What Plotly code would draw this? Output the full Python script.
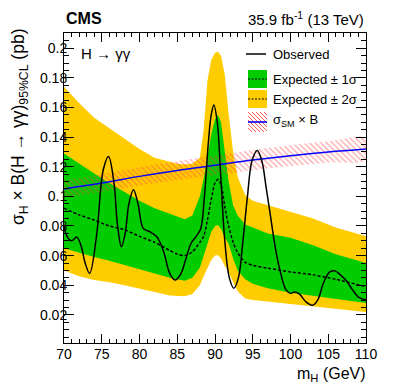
import plotly.graph_objects as go

# mass grid for the expected bands (GeV)
m_band = [70, 72, 74, 76, 78, 80, 82, 84, 85, 86, 87, 88, 88.5, 89, 89.5, 90, 90.4,
          90.8, 91.3, 91.8, 92.4, 93, 94, 95, 97, 100, 103, 106, 110]
exp_2s_up = [0.174, 0.163, 0.153, 0.146, 0.139, 0.132, 0.126, 0.123, 0.122, 0.1215, 0.122,
             0.126, 0.145, 0.178, 0.192, 0.197, 0.1977, 0.195, 0.182, 0.156, 0.130, 0.113,
             0.101, 0.097, 0.094, 0.090, 0.085, 0.079, 0.073]
exp_1s_up = [0.129, 0.122, 0.1155, 0.109, 0.103, 0.097, 0.092, 0.088, 0.086, 0.0845, 0.087,
             0.100, 0.112, 0.127, 0.142, 0.152, 0.155, 0.150, 0.131, 0.110, 0.094, 0.087,
             0.081, 0.079, 0.075, 0.072, 0.067, 0.061, 0.055]
exp_median = [0.092, 0.0875, 0.084, 0.080, 0.0775, 0.073, 0.069, 0.0635, 0.061, 0.060, 0.0625,
              0.069, 0.073, 0.084, 0.098, 0.109, 0.1115, 0.108, 0.093, 0.080, 0.069, 0.062,
              0.0555, 0.0535, 0.0515, 0.049, 0.047, 0.044, 0.039]
exp_1s_dn = [0.065, 0.062, 0.059, 0.0565, 0.054, 0.051, 0.048, 0.045, 0.044, 0.043, 0.045,
             0.052, 0.060, 0.068, 0.076, 0.080, 0.0806, 0.078, 0.072, 0.068, 0.058, 0.050,
             0.044, 0.041, 0.038, 0.035, 0.033, 0.031, 0.028]
exp_2s_dn = [0.050, 0.046, 0.0435, 0.042, 0.040, 0.038, 0.0355, 0.033, 0.0325, 0.0325, 0.034,
             0.040, 0.046, 0.052, 0.057, 0.060, 0.0603, 0.058, 0.053, 0.049, 0.042, 0.036,
             0.031, 0.030, 0.029, 0.0275, 0.026, 0.024, 0.022]

# observed limit
m_obs = [70.0, 70.4, 71.0, 71.7, 72.3, 72.8, 73.4, 74.3, 75.2, 75.9, 76.6, 77.1, 77.6, 78.1,
         78.6, 79.2, 79.8, 80.5, 81.4, 82.3, 83.2, 84.0, 84.7, 85.4, 86.1, 86.8, 87.5, 88.1,
         88.6, 89.1, 89.5, 89.85, 90.3, 90.8, 91.3, 91.9, 92.5, 93.1, 93.7, 94.3, 94.9, 95.6,
         96.2, 96.8, 97.4, 98.0, 98.7, 99.4, 100.0, 100.6, 101.2, 102.0, 102.9, 103.6, 104.4,
         105.2, 105.9, 106.6, 107.4, 108.2, 109.0, 110.0]
obs = [0.080, 0.073, 0.070, 0.0725, 0.066, 0.055, 0.048, 0.073, 0.118, 0.127, 0.110, 0.080,
       0.066, 0.075, 0.095, 0.1045, 0.095, 0.0784, 0.076, 0.0727, 0.0626, 0.048, 0.0435, 0.047,
       0.057, 0.068, 0.073, 0.078, 0.100, 0.135, 0.155, 0.1617, 0.150, 0.110, 0.070, 0.045,
       0.038, 0.045, 0.070, 0.100, 0.124, 0.131, 0.124, 0.105, 0.085, 0.065, 0.048, 0.037,
       0.0345, 0.0355, 0.034, 0.029, 0.0265, 0.030, 0.042, 0.049, 0.0497, 0.047, 0.043, 0.037,
       0.032, 0.030]

# SM cross section x BR
m_sm = [70, 75, 80, 85, 90, 95, 100, 105, 110]
sm = [0.105, 0.109, 0.1135, 0.1175, 0.121, 0.1245, 0.1275, 0.130, 0.132]
sm_rel_unc = 0.055

y_ticks = [0.02, 0.04, 0.06, 0.08, 0.1, 0.12, 0.14, 0.16, 0.18, 0.2]
y_ticktext = ["0.02", "0.04", "0.06", "0.08", "0.1", "0.12", "0.14", "0.16", "0.18", "0.2"]
x_ticks = [70, 75, 80, 85, 90, 95, 100, 105, 110]

YELLOW = "#FFCC00"
GREEN = "#00CC00"
HATCH = "rgba(255,70,70,0.9)"
FONT = "Liberation Sans, Arial, sans-serif"


def band(xs, lo, hi, color):
    return go.Scatter(x=list(xs) + list(xs)[::-1], y=list(hi) + list(lo)[::-1],
                      fill="toself", fillcolor=color, line=dict(width=0),
                      mode="lines", hoverinfo="skip", showlegend=False)


fig = go.Figure()
fig.add_trace(band(m_band, exp_2s_dn, exp_2s_up, YELLOW))
fig.add_trace(band(m_band, exp_1s_dn, exp_1s_up, GREEN))
fig.add_trace(go.Scatter(x=m_band, y=exp_median, mode="lines", line_shape="spline",
                         line=dict(color="black", width=1.5, dash="3px,2px", smoothing=0.7),
                         showlegend=False))

sm_lo = [v * (1 - sm_rel_unc) for v in sm]
sm_hi = [v * (1 + sm_rel_unc) for v in sm]
fig.add_trace(go.Scatter(x=m_sm + m_sm[::-1], y=sm_hi + sm_lo[::-1], fill="toself",
                         fillcolor="rgba(0,0,0,0)", line=dict(width=0), mode="lines",
                         line_shape="spline",
                         fillpattern=dict(shape="\\", fgcolor=HATCH, bgcolor="rgba(0,0,0,0)",
                                          size=4, solidity=0.35),
                         showlegend=False, hoverinfo="skip"))
fig.add_trace(go.Scatter(x=m_sm, y=sm, mode="lines", line_shape="spline",
                         line=dict(color="#0000FF", width=1.5), showlegend=False))
fig.add_trace(go.Scatter(x=m_obs, y=obs, mode="lines", line_shape="spline",
                         line=dict(color="black", width=1.5, smoothing=1.0), showlegend=False))

# pixel helpers for the hand made legend (plot area 64..366 x 33..343)
L, R, T, B = 64, 366, 33, 343


def px(x):
    return (x - L) / (R - L)


def py(y):
    return (B - y) / (B - T)


shapes = []
# Observed
shapes.append(dict(type="line", xref="paper", yref="paper", x0=px(246), x1=px(266),
                   y0=py(54), y1=py(54), line=dict(color="black", width=1.5)))
# +-1 sigma
shapes.append(dict(type="rect", xref="paper", yref="paper", x0=px(248), x1=px(267),
                   y0=py(88), y1=py(70), fillcolor=GREEN, line=dict(width=0)))
shapes.append(dict(type="line", xref="paper", yref="paper", x0=px(248), x1=px(267),
                   y0=py(79), y1=py(79), line=dict(color="black", width=1, dash="2px,1.5px")))
# +-2 sigma
shapes.append(dict(type="rect", xref="paper", yref="paper", x0=px(248), x1=px(267),
                   y0=py(108), y1=py(90), fillcolor=YELLOW, line=dict(width=0)))
shapes.append(dict(type="line", xref="paper", yref="paper", x0=px(248), x1=px(267),
                   y0=py(99), y1=py(99), line=dict(color="black", width=1, dash="2px,1.5px")))
# SM hatched box
bx0, bx1, by0, by1 = 248, 267, 112, 132
w, h = bx1 - bx0, by1 - by0
c = -h
while c < w:
    t0 = max(0, -c)
    t1 = min(h, w - c)
    if t1 > t0:
        shapes.append(dict(type="line", xref="paper", yref="paper",
                           x0=px(bx0 + c + t0), y0=py(by0 + t0),
                           x1=px(bx0 + c + t1), y1=py(by0 + t1),
                           line=dict(color=HATCH, width=1)))
    c += 4
shapes.append(dict(type="line", xref="paper", yref="paper", x0=px(248), x1=px(267),
                   y0=py(122), y1=py(122), line=dict(color="#0000FF", width=1.6)))

annotations = [
    dict(text="Observed", x=px(271), y=py(54)),
    dict(text="Expected ± 1σ", x=px(271), y=py(79)),
    dict(text="Expected ± 2σ", x=px(271), y=py(99)),
    dict(text="σ<sub>SM</sub> × B", x=px(271), y=py(121)),
]
for a in annotations:
    a.update(xref="paper", yref="paper", xanchor="left", yanchor="middle", showarrow=False,
             font=dict(size=13, color="black", family=FONT))

annotations += [
    dict(text="H → γγ", x=px(79), y=py(53), xanchor="left", yanchor="middle",
         font=dict(size=15, color="black", family=FONT)),
    dict(text="<b>CMS</b>", x=0, y=py(18), xanchor="left", yanchor="middle",
         font=dict(size=16, color="black", family=FONT)),
    dict(text="35.9 fb<sup>-1</sup> (13 TeV)", x=1, y=py(18), xanchor="right", yanchor="middle",
         font=dict(size=15, color="black", family=FONT)),
    dict(text="m<sub>H</sub> (GeV)", x=1.005, y=py(374), xanchor="right", yanchor="middle",
         font=dict(size=16, color="black", family=FONT)),
    dict(text="σ<sub>H</sub> × B(H → γγ)<sub>95%CL</sub> (pb)", x=px(19), y=py(27),
         xanchor="center", yanchor="top", textangle=-90,
         font=dict(size=17.5, color="black", family=FONT)),
]
for a in annotations:
    a.setdefault("xref", "paper")
    a.setdefault("yref", "paper")
    a.setdefault("showarrow", False)

fig.update_layout(
    width=407, height=391,
    margin=dict(l=L, r=407 - R, t=T, b=391 - B),
    paper_bgcolor="white", plot_bgcolor="white",
    font=dict(family=FONT, size=14, color="black"),
    shapes=shapes, annotations=annotations,
    showlegend=False,
)
fig.update_xaxes(range=[70, 110], tickvals=x_ticks, ticks="inside", ticklen=9,
                 tickcolor="black", showgrid=False, zeroline=False, showline=True,
                 linecolor="black", linewidth=1, mirror="allticks",
                 tickfont=dict(size=14), ticklabelstandoff=-2,
                 minor=dict(tickmode="linear", tick0=70, dtick=1, ticks="inside",
                            ticklen=4, tickcolor="black"))
fig.update_yaxes(range=[0.001, 0.2103], tickvals=y_ticks, ticktext=y_ticktext,
                 ticks="inside", ticklen=10, tickcolor="black", showgrid=False,
                 zeroline=False, showline=True, linecolor="black", linewidth=1,
                 mirror="allticks", tickfont=dict(size=14), ticklabelstandoff=-7,
                 minor=dict(tickmode="linear", tick0=0, dtick=0.005, ticks="inside",
                            ticklen=5, tickcolor="black"))

fig.write_html("out.html", config={"displayModeBar": False},
               post_script="document.body.style.margin='0px';")
